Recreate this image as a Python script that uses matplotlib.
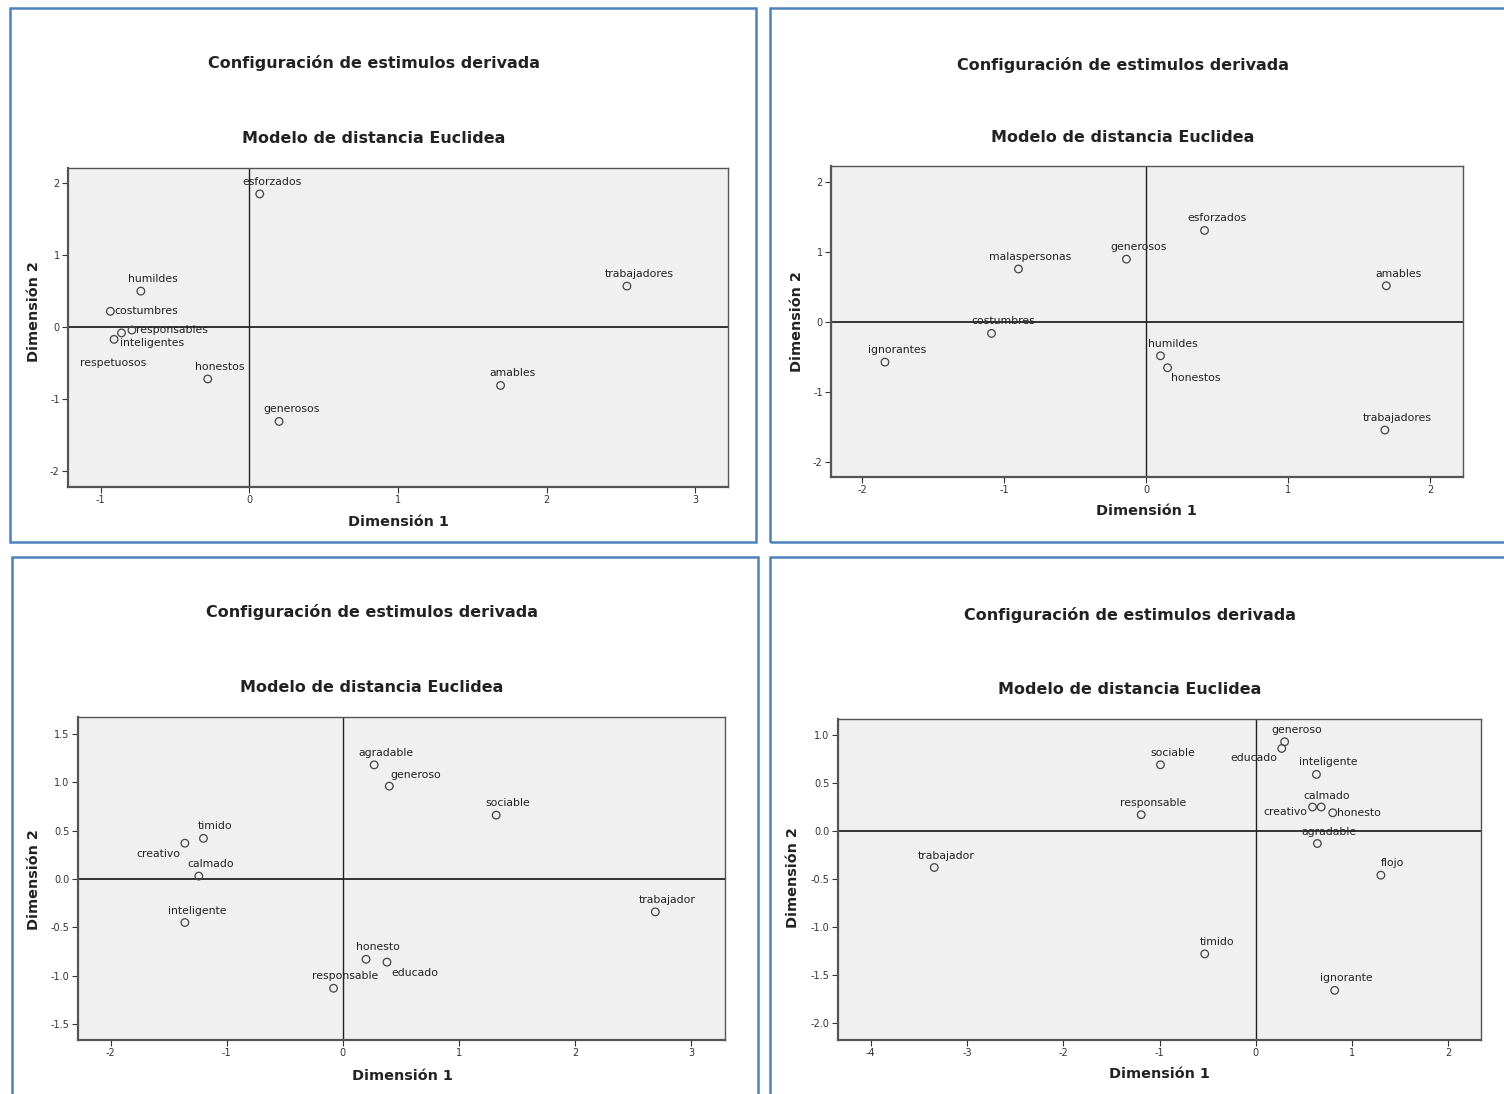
import matplotlib.pyplot as plt
from matplotlib.patches import Rectangle

W, H = 1504, 1094

title = "Configuración de estimulos derivada"
subtitle = "Modelo de distancia Euclidea"

# panel 1
p1_names = ["esforzados", "trabajadores", "humildes", "costumbres", "responsables",
            "inteligentes", "respetuosos", "honestos", "amables", "generosos"]
p1_x = [0.07, 2.54, -0.73, -0.935, -0.79, -0.86, -0.91, -0.28, 1.69, 0.20]
p1_y = [1.85, 0.57, 0.50, 0.22, -0.04, -0.08, -0.17, -0.72, -0.81, -1.31]

# panel 2
p2_names = ["esforzados", "generosos", "malaspersonas", "amables", "costumbres",
            "ignorantes", "humildes", "honestos", "trabajadores"]
p2_x = [0.41, -0.14, -0.90, 1.69, -1.09, -1.84, 0.10, 0.15, 1.68]
p2_y = [1.31, 0.90, 0.76, 0.52, -0.16, -0.57, -0.48, -0.65, -1.54]

# panel 3
p3_names = ["agradable", "generoso", "sociable", "timido", "creativo", "calmado",
            "inteligente", "trabajador", "honesto", "educado", "responsable"]
p3_x = [0.27, 0.40, 1.32, -1.20, -1.36, -1.24, -1.36, 2.69, 0.20, 0.38, -0.08]
p3_y = [1.18, 0.96, 0.66, 0.42, 0.37, 0.03, -0.45, -0.34, -0.83, -0.86, -1.13]

# panel 4
p4_names = ["generoso", "educado", "sociable", "inteligente", "creativo", "calmado",
            "honesto", "responsable", "agradable", "flojo", "trabajador", "timido", "ignorante"]
p4_x = [0.30, 0.27, -0.99, 0.63, 0.59, 0.68, 0.80, -1.19, 0.64, 1.30, -3.34, -0.53, 0.82]
p4_y = [0.93, 0.86, 0.69, 0.59, 0.25, 0.25, 0.19, 0.17, -0.13, -0.46, -0.38, -1.28, -1.66]

# label placement in pixels (dx, dy, ha); default is centred up-right
p1_off = {"costumbres": (4, 0, "left"), "responsables": (4, 0, "left"),
          "inteligentes": (-2, -10, "left"), "respetuosos": (-1, -24, "center")}
p2_off = {"honestos": (3, -10, "left")}
p3_off = {"generoso": (1, 11, "left"), "creativo": (-4, -11, "right"),
          "educado": (4, -11, "left")}
p4_off = {"educado": (-4, -10, "right"), "creativo": (-5, -5, "right"),
          "calmado": (5, 11, "center"), "honesto": (4, 0, "left")}

panels = [
    dict(names=p1_names, x=p1_x, y=p1_y, off=p1_off, box=(68, 168, 728, 487),
         xlim=(-1.22, 3.22), ylim=(-2.22, 2.21), xt=[-1, 0, 1, 2, 3], yt=[-2, -1, 0, 1, 2],
         fmt="{:g}", frame=(10, 8, 756, 542), tpos=(374, 63, 138), xl=(398, 522), yl=(34, 312)),
    dict(names=p2_names, x=p2_x, y=p2_y, off=p2_off, box=(831, 166, 1463, 477),
         xlim=(-2.22, 2.23), ylim=(-2.21, 2.23), xt=[-2, -1, 0, 1, 2], yt=[-2, -1, 0, 1, 2],
         fmt="{:g}", frame=(770, 8, 1530, 542), tpos=(1123, 65, 137), xl=(1146, 511), yl=(797, 322)),
    dict(names=p3_names, x=p3_x, y=p3_y, off=p3_off, box=(78, 717, 725, 1040),
         xlim=(-2.28, 3.29), ylim=(-1.665, 1.675), xt=[-2, -1, 0, 1, 2, 3],
         yt=[-1.5, -1.0, -0.5, 0.0, 0.5, 1.0, 1.5],
         fmt="{:.1f}", frame=(12, 557, 758, 1120), tpos=(372, 612, 688), xl=(402, 1076), yl=(34, 880)),
    dict(names=p4_names, x=p4_x, y=p4_y, off=p4_off, box=(838, 719, 1481, 1040),
         xlim=(-4.34, 2.34), ylim=(-2.177, 1.167), xt=[-4, -3, -2, -1, 0, 1, 2],
         yt=[-2.0, -1.5, -1.0, -0.5, 0.0, 0.5, 1.0],
         fmt="{:.1f}", frame=(770, 557, 1530, 1120), tpos=(1130, 615, 690), xl=(1159, 1074), yl=(793, 878)),
]

plt.rcParams['font.family'] = ['DejaVu Sans']

fig = plt.figure(figsize=(W / 100, H / 100), dpi=100)


def fx(px):
    return px / W


def fy(py):
    return 1 - py / H


for p in panels:
    x0, y0, x1, y1 = p["frame"]
    fig.patches.append(Rectangle((fx(x0), fy(y1)), fx(x1 - x0), (y1 - y0) / H,
                                 transform=fig.transFigure, fill=False,
                                 edgecolor="#4f81bd", linewidth=1.8))

    a0, b0, a1, b1 = p["box"]
    ax = fig.add_axes([fx(a0), fy(b1), fx(a1 - a0), (b1 - b0) / H])
    ax.set_facecolor("#f0f0f0")
    ax.set_xlim(*p["xlim"])
    ax.set_ylim(*p["ylim"])
    for s in ax.spines.values():
        s.set_color("#555555")
        s.set_linewidth(1.0)
    ax.spines["bottom"].set_linewidth(1.6)
    ax.spines["left"].set_linewidth(1.6)
    ax.axhline(0, color="#333333", linewidth=1.4, zorder=1)
    ax.axvline(0, color="#222222", linewidth=1.0, zorder=1)

    ax.scatter(p["x"], p["y"], s=30, facecolors="none", edgecolors="#444444",
               linewidths=0.9, zorder=3)
    for n, xv, yv in zip(p["names"], p["x"], p["y"]):
        dx, dy, ha = p["off"].get(n, (12, 12, "center"))
        ax.annotate(n, (xv, yv), xytext=(dx, dy), textcoords="offset pixels",
                    ha=ha, va="center", fontsize=7.8, color="#222222", zorder=4)

    ax.set_xticks(p["xt"])
    ax.set_yticks(p["yt"])
    ax.set_xticklabels(["{:g}".format(v) for v in p["xt"]])
    ax.set_yticklabels([p["fmt"].format(v) for v in p["yt"]])
    ax.tick_params(direction="out", length=4, width=0.8, colors="#333333", labelsize=7, pad=2)

    tx, ty1, ty2 = p["tpos"]
    fig.text(fx(tx), fy(ty1), title, ha="center", va="center", fontsize=11.5,
             fontweight="bold", color="#222222")
    fig.text(fx(tx), fy(ty2), subtitle, ha="center", va="center", fontsize=11.5,
             fontweight="bold", color="#222222")
    fig.text(fx(p["xl"][0]), fy(p["xl"][1]), "Dimensión 1", ha="center", va="center",
             fontsize=10.4, fontweight="bold", color="#222222")
    fig.text(fx(p["yl"][0]), fy(p["yl"][1]), "Dimensión 2", ha="center", va="center",
             fontsize=10.4, fontweight="bold", color="#222222", rotation=90)

fig.savefig("out.png", dpi=100, facecolor="white")
